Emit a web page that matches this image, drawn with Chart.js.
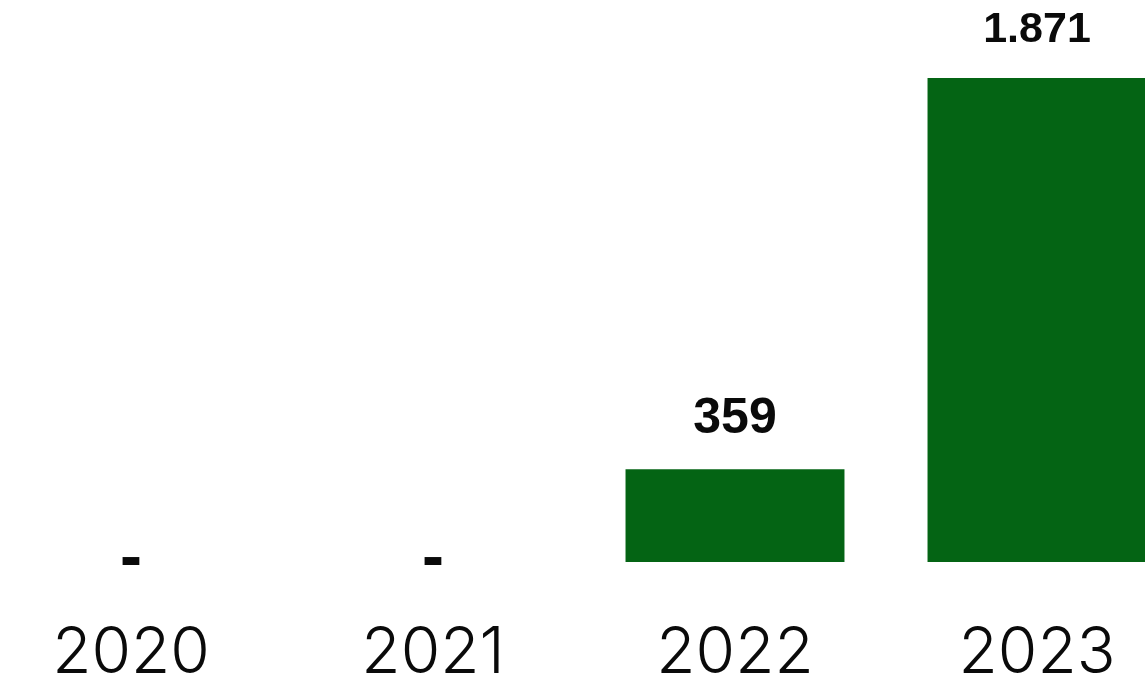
<!DOCTYPE html>
<html>
<head>
<meta charset="utf-8">
<script src="https://cdn.jsdelivr.net/npm/chart.js@4/dist/chart.umd.min.js"></script>
<style>
  html, body { margin: 0; padding: 0; background: #fff; overflow: hidden; }
  body { width: 1145px; height: 680px; position: relative; }
  /* canvas is a bit bigger than the window; the overflow is clipped */
  #wrap { position: absolute; left: -20px; top: 0; width: 1208px; height: 746px; }
</style>
</head>
<body>
<div id="wrap"><canvas id="chart" width="1208" height="746"></canvas></div>
<script>
// years and values (null = no data, shown as "-")
const years = ['2020', '2021', '2022', '2023'];
const values = [null, null, 359, 1871];

const BAR_GREEN = '#046414';
const INK = '#0a0a0a';
const LABEL_SIZES = [66, 66, 50, 43];

function fmt(v) {
  return v.toLocaleString('de-DE');
}

// draws the value above each bar, or a dash on the baseline when empty
const valueLabels = {
  id: 'valueLabels',
  afterDatasetsDraw(chart) {
    const ctx = chart.ctx;
    const meta = chart.getDatasetMeta(0);
    const zeroY = chart.scales.y.getPixelForValue(0);
    ctx.save();
    ctx.fillStyle = INK;
    ctx.textAlign = 'center';
    ctx.textBaseline = 'alphabetic';
    meta.data.forEach((bar, i) => {
      const v = values[i];
      ctx.font = `bold ${LABEL_SIZES[i]}px "Liberation Sans", Arial, sans-serif`;
      if (v == null) {
        ctx.fillText('-', bar.x, zeroY + 16);
      } else {
        ctx.fillText(fmt(v), bar.x, bar.y - 36);
      }
    });
    ctx.restore();
  },
};

new Chart(document.getElementById('chart'), {
  type: 'bar',
  data: {
    labels: years,
    datasets: [{
      data: values,
      backgroundColor: BAR_GREEN,
      borderWidth: 0,
      barPercentage: 0.725,
      categoryPercentage: 1,
    }],
  },
  options: {
    responsive: false,
    animation: false,
    layout: { padding: { top: 78, left: 0, right: 0, bottom: 0 } },
    plugins: {
      legend: { display: false },
      tooltip: { enabled: false },
    },
    scales: {
      x: {
        grid: { display: false, drawTicks: false },
        border: { display: false },
        ticks: {
          color: INK,
          padding: 60,
          font: { family: 'Inter, "Liberation Sans", sans-serif', size: 64, weight: 300, lineHeight: 1 },
        },
      },
      y: {
        display: false,
        min: 0,
        max: 1871,
      },
    },
  },
  plugins: [valueLabels],
});
</script>
</body>
</html>
